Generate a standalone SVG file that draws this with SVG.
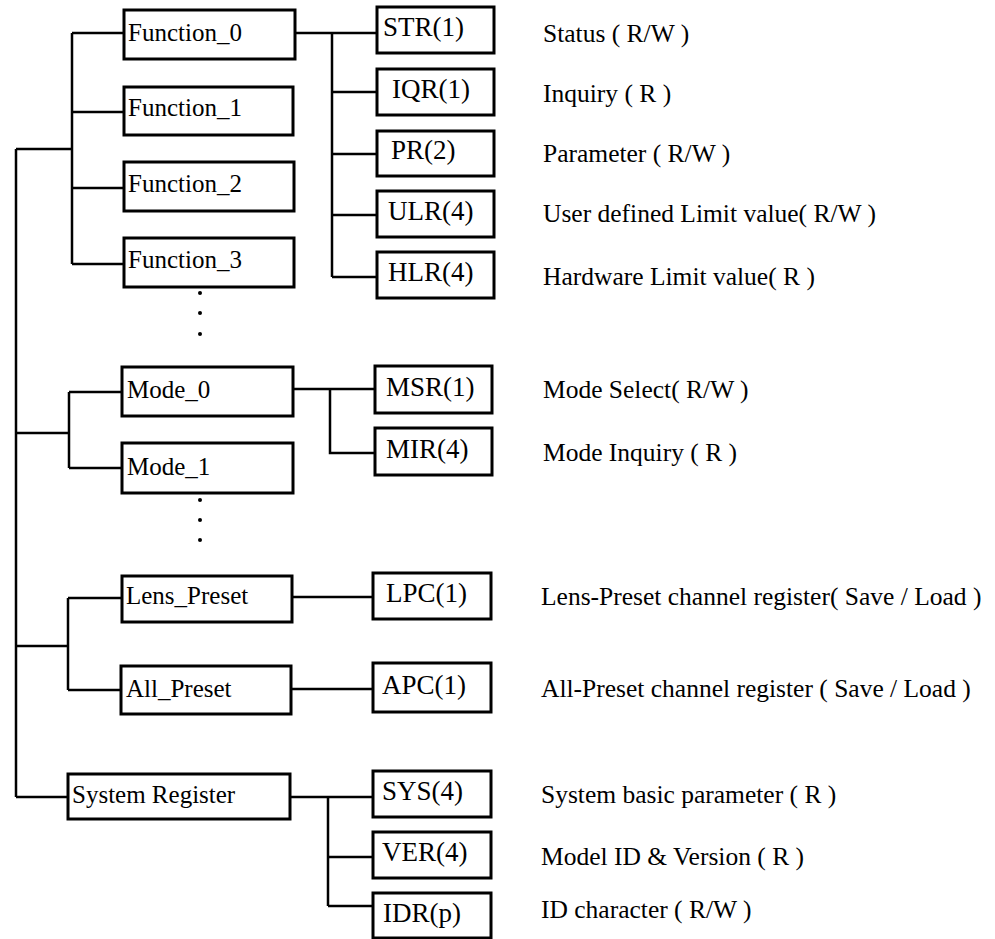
<svg xmlns="http://www.w3.org/2000/svg" width="995" height="939" viewBox="0 0 995 939">
<style>
.box{fill:#fff;stroke:#000;stroke-width:3}
.ln{fill:none;stroke:#000;stroke-width:2.5}
.lbl{font-family:"Liberation Serif",serif;font-size:25px;fill:#000}
.reg{font-family:"Liberation Serif",serif;font-size:27px;fill:#000}
.desc{font-family:"Liberation Serif",serif;font-size:25.5px;fill:#000}
</style>
<rect width="995" height="939" fill="#fff"/>
<g id="connectors">
<path class="ln" d="M16,149 V797 M16,149 H72 M16,433 H69 M16,646 H68 M16,797 H68"/>
<path class="ln" d="M72,33 V264 M72,33 H124 M72,112 H124 M72,188 H124 M72,264 H124"/>
<path class="ln" d="M295,33 H377 M332,33 V277 M332,92 H377 M332,154 H377 M332,215 H377 M332,277 H377"/>
<path class="ln" d="M69,392 V468 M69,392 H122 M69,468 H122"/>
<path class="ln" d="M293,389 H375 M330,389 V453 H375"/>
<path class="ln" d="M68,598 V690 M68,598 H122 M68,690 H121"/>
<path class="ln" d="M292,597 H373 M291,689 H373"/>
<path class="ln" d="M290,797 H373 M328,797 V906 M328,857 H373 M328,906 H373"/>
</g>
<g id="dots1" fill="#000"><circle cx="200" cy="293" r="2"/><circle cx="200" cy="313" r="2"/><circle cx="200" cy="334" r="2"/></g>
<g id="dots2" fill="#000"><circle cx="200" cy="500" r="2"/><circle cx="200" cy="520" r="2"/><circle cx="200" cy="540" r="2"/></g>
<g id="function0"><rect class="box" x="124" y="10" width="171" height="49"/><text class="lbl" x="128" y="41">Function_0</text></g>
<g id="function1"><rect class="box" x="124" y="87" width="169" height="48"/><text class="lbl" x="128" y="116">Function_1</text></g>
<g id="function2"><rect class="box" x="124" y="162" width="170" height="49"/><text class="lbl" x="128" y="192">Function_2</text></g>
<g id="function3"><rect class="box" x="124" y="238" width="170" height="49"/><text class="lbl" x="128" y="268">Function_3</text></g>
<g id="str"><rect class="box" x="377" y="7" width="117" height="46"/><text class="reg" x="383" y="36">STR(1)</text><text class="desc" x="543" y="42">Status ( R/W )</text></g>
<g id="iqr"><rect class="box" x="377" y="69" width="117" height="46"/><text class="reg" x="392" y="98">IQR(1)</text><text class="desc" x="543" y="102">Inquiry ( R )</text></g>
<g id="pr"><rect class="box" x="377" y="131" width="117" height="45"/><text class="reg" x="391" y="159">PR(2)</text><text class="desc" x="543" y="162">Parameter ( R/W )</text></g>
<g id="ulr"><rect class="box" x="377" y="191" width="117" height="46"/><text class="reg" x="388" y="220">ULR(4)</text><text class="desc" x="543" y="222">User defined Limit value( R/W )</text></g>
<g id="hlr"><rect class="box" x="377" y="252" width="117" height="46"/><text class="reg" x="388" y="281">HLR(4)</text><text class="desc" x="543" y="285">Hardware Limit value( R )</text></g>
<g id="mode0"><rect class="box" x="122" y="367" width="171" height="49"/><text class="lbl" x="127" y="398">Mode_0</text></g>
<g id="mode1"><rect class="box" x="122" y="443" width="171" height="50"/><text class="lbl" x="127" y="475">Mode_1</text></g>
<g id="msr"><rect class="box" x="375" y="366" width="117" height="47"/><text class="reg" x="386" y="396">MSR(1)</text><text class="desc" x="543" y="398">Mode Select( R/W )</text></g>
<g id="mir"><rect class="box" x="375" y="428" width="117" height="47"/><text class="reg" x="386" y="458">MIR(4)</text><text class="desc" x="543" y="461">Mode Inquiry ( R )</text></g>
<g id="lenspreset"><rect class="box" x="122" y="576" width="170" height="46"/><text class="lbl" x="126" y="604">Lens_Preset</text></g>
<g id="allpreset"><rect class="box" x="121" y="666" width="170" height="48"/><text class="lbl" x="126" y="697">All_Preset</text></g>
<g id="lpc"><rect class="box" x="373" y="573" width="118" height="46"/><text class="reg" x="386" y="602">LPC(1)</text><text class="desc" x="541" y="605">Lens-Preset channel register( Save / Load )</text></g>
<g id="apc"><rect class="box" x="373" y="663" width="118" height="49"/><text class="reg" x="382" y="694">APC(1)</text><text class="desc" x="541" y="697">All-Preset channel register ( Save / Load )</text></g>
<g id="sysreg"><rect class="box" x="68" y="774" width="222" height="45"/><text class="lbl" x="72" y="803">System Register</text></g>
<g id="sys"><rect class="box" x="373" y="771" width="118" height="46"/><text class="reg" x="382" y="800">SYS(4)</text><text class="desc" x="541" y="803">System basic parameter ( R )</text></g>
<g id="ver"><rect class="box" x="373" y="832" width="118" height="46"/><text class="reg" x="382" y="861">VER(4)</text><text class="desc" x="541" y="865">Model ID &amp; Version ( R )</text></g>
<g id="idr"><rect class="box" x="373" y="893" width="118" height="45"/><text class="reg" x="383" y="922">IDR(p)</text><text class="desc" x="541" y="918">ID character ( R/W )</text></g>
</svg>
